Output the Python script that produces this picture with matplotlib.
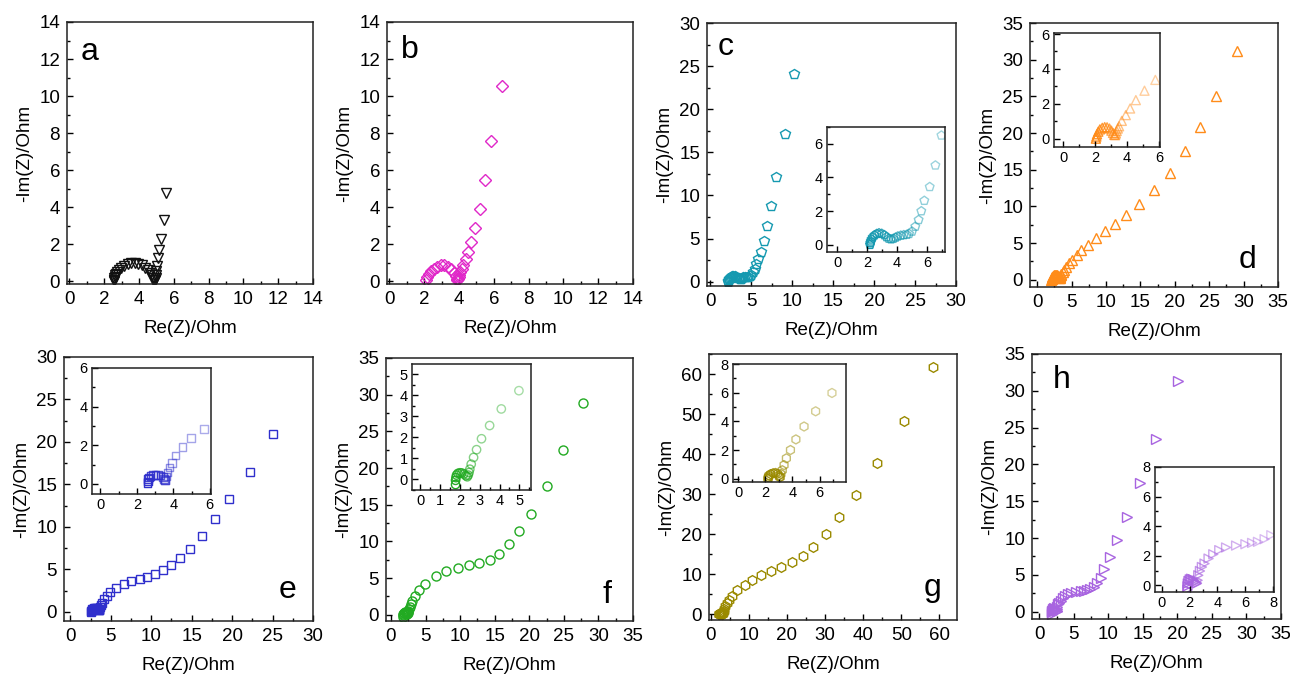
import numpy as np
import matplotlib
matplotlib.use("Agg")
import matplotlib.pyplot as plt
from matplotlib.colors import to_rgba
from matplotlib.ticker import MultipleLocator

plt.rcParams["font.family"] = ["Liberation Sans", "DejaVu Sans"]

# --- data (Re(Z), -Im(Z)) ---
a_x = [2.55, 2.55, 2.56, 2.58, 2.6, 2.63, 2.68, 2.75, 2.85, 2.98, 3.15, 3.35, 3.55, 3.75, 3.95,
       4.15, 4.35, 4.5, 4.62, 4.72, 4.78, 4.82, 4.85, 4.9, 4.95, 4.98, 5.0, 5.05, 5.1, 5.17, 5.27, 5.42, 5.55]
a_y = [0.0, 0.05, 0.1, 0.17, 0.25, 0.33, 0.42, 0.52, 0.63, 0.74, 0.85, 0.93, 0.98, 0.99, 0.95,
       0.86, 0.74, 0.6, 0.46, 0.32, 0.2, 0.1, 0.05, 0.1, 0.2, 0.35, 0.55, 0.85, 1.25, 1.7, 2.3, 3.3, 4.75]

b_x = [2.1, 2.15, 2.25, 2.4, 2.55, 2.75, 2.95, 3.15, 3.35, 3.55, 3.72, 3.82, 3.87, 3.9, 3.93, 3.97,
       4.02, 4.08, 4.15, 4.25, 4.38, 4.52, 4.68, 4.9, 5.19, 5.52, 5.86, 6.45]
b_y = [0.1, 0.25, 0.4, 0.55, 0.68, 0.8, 0.87, 0.87, 0.8, 0.65, 0.45, 0.28, 0.15, 0.08, 0.12, 0.22,
       0.35, 0.5, 0.67, 0.9, 1.2, 1.58, 2.12, 2.86, 3.9, 5.49, 7.59, 10.56]

c_x = [2.2, 2.22, 2.25, 2.3, 2.38, 2.5, 2.65, 2.8, 2.98, 3.15, 3.3, 3.45, 3.6, 3.75, 3.9, 4.05, 4.25,
       4.45, 4.65, 4.8, 5.0, 5.22, 5.44, 5.62, 5.82, 6.18, 6.56, 6.96, 7.4, 8.05, 9.07, 10.24]
c_y = [0.0, 0.1, 0.2, 0.32, 0.45, 0.57, 0.65, 0.69, 0.66, 0.58, 0.46, 0.37, 0.33, 0.36, 0.43, 0.5, 0.55,
       0.58, 0.6, 0.65, 0.79, 1.08, 1.48, 2.0, 2.62, 3.44, 4.72, 6.5, 8.76, 12.16, 17.07, 24.05]

d_x = [2.05, 2.08, 2.12, 2.2, 2.3, 2.45, 2.6, 2.75, 2.9, 3.02, 3.12, 3.2, 3.25, 3.3, 3.35, 3.42, 3.5,
       3.67, 3.92, 4.19, 4.55, 5.09, 5.77, 6.39, 7.36, 8.52, 9.78, 11.23, 12.87, 14.81, 17.04, 19.26,
       21.44, 23.62, 26.04, 29.04]
d_y = [0.0, 0.12, 0.25, 0.4, 0.53, 0.62, 0.66, 0.65, 0.58, 0.46, 0.33, 0.22, 0.2, 0.3, 0.44, 0.58, 0.71,
       1.02, 1.35, 1.73, 2.21, 2.75, 3.37, 4.0, 4.77, 5.68, 6.59, 7.64, 8.86, 10.27, 12.18, 14.6,
       17.5, 20.8, 25.1, 31.18]

e_x = [2.58, 2.6, 2.63, 2.68, 2.76, 2.88, 3.02, 3.17, 3.3, 3.42, 3.5, 3.53, 3.56, 3.6, 3.68, 3.79,
       3.93, 4.13, 4.5, 4.96, 5.68, 6.6, 7.54, 8.57, 9.52, 10.42, 11.45, 12.4, 13.56, 14.8, 16.28,
       17.84, 19.6, 22.25, 25.05]
e_y = [0.05, 0.13, 0.24, 0.33, 0.4, 0.45, 0.47, 0.47, 0.43, 0.35, 0.25, 0.18, 0.22, 0.38, 0.59, 0.85,
       1.1, 1.47, 1.9, 2.37, 2.83, 3.33, 3.65, 3.92, 4.12, 4.5, 4.98, 5.49, 6.35, 7.45, 8.9,
       10.9, 13.25, 16.47, 20.9]

f_x = [1.78, 1.78, 1.8, 1.83, 1.9, 2.0, 2.1, 2.2, 2.3, 2.37, 2.42, 2.46, 2.5, 2.57, 2.69, 2.84, 3.09,
       3.5, 4.09, 4.98, 6.49, 7.98, 9.76, 11.3, 12.79, 14.33, 15.67, 17.1, 18.5, 20.29, 22.5, 24.9, 27.79]
f_y = [-0.25, -0.05, 0.08, 0.2, 0.28, 0.31, 0.3, 0.25, 0.17, 0.12, 0.2, 0.32, 0.48, 0.72, 1.04, 1.41, 1.93,
       2.56, 3.35, 4.22, 5.27, 5.9, 6.4, 6.73, 7.05, 7.5, 8.3, 9.68, 11.36, 13.77, 17.5, 22.5, 28.9]

g_x = [2.2, 2.22, 2.27, 2.4, 2.58, 2.75, 2.9, 3.0, 3.06, 3.1, 3.15, 3.25, 3.38, 3.55, 3.85, 4.25, 4.85,
       5.7, 6.9, 8.9, 10.85, 13.2, 15.84, 18.55, 21.26, 24.15, 26.95, 30.27, 33.68, 38.06, 43.7, 50.6, 58.4]
g_y = [-0.02, 0.1, 0.22, 0.32, 0.38, 0.4, 0.35, 0.22, 0.1, 0.12, 0.33, 0.59, 0.95, 1.42, 2.0, 2.74, 3.64,
       4.7, 5.98, 7.3, 8.6, 9.8, 10.9, 11.9, 13.2, 14.6, 16.8, 20.1, 24.4, 29.8, 37.75, 48.3, 61.75]

h_x = [1.86, 1.86, 1.88, 1.93, 2.02, 2.12, 2.24, 2.34, 2.44, 2.5, 2.54, 2.58, 2.63, 2.75, 2.89, 3.08,
       3.37, 3.71, 4.14, 4.63, 5.35, 6.02, 6.5, 6.92, 7.4, 7.88, 8.4, 8.9, 9.42, 10.19, 11.26, 12.7,
       14.64, 16.96, 20.05]
h_y = [-0.3, -0.07, 0.12, 0.29, 0.4, 0.45, 0.42, 0.34, 0.22, 0.11, 0.15, 0.34, 0.68, 0.97, 1.24, 1.47,
       1.81, 2.1, 2.38, 2.56, 2.69, 2.78, 2.87, 2.94, 3.12, 3.39, 3.9, 4.6, 5.76, 7.48, 9.75, 12.92,
       17.45, 23.44, 31.28]

W, H = 1290, 677


def pix_rect(l, r, t, b):
    return [l / W, 1 - b / H, (r - l) / W, (b - t) / H]


def style(ax, xlim, ylim, xmaj, ymaj, fs, minor=True):
    ax.set_xlim(*xlim)
    ax.set_ylim(*ylim)
    ax.xaxis.set_major_locator(MultipleLocator(xmaj))
    ax.yaxis.set_major_locator(MultipleLocator(ymaj))
    if minor:
        ax.xaxis.set_minor_locator(MultipleLocator(xmaj / 2))
        ax.yaxis.set_minor_locator(MultipleLocator(ymaj / 2))
    ax.tick_params(which="both", direction="in", top=False, right=False, labelsize=fs, width=1.0)
    ax.tick_params(which="major", length=4, pad=5)
    ax.tick_params(which="minor", length=2)
    for s in ax.spines.values():
        s.set_linewidth(1.1)
        s.set_color("#222222")


# name, x, y, colour, marker, ms, rect, xlim, ylim, xmaj, ymaj, letter pos
panels = [
    ("a", a_x, a_y, "#111111", "v", 7, (67, 313, 22, 284), (-0.14, 14), (-0.14, 14), 2, 2, (0.093, 0.885)),
    ("b", b_x, b_y, "#E028C8", "D", 6, (387, 633, 22, 284), (-0.14, 14), (-0.14, 14), 2, 2, (0.093, 0.893)),
    ("c", c_x, c_y, "#1599B0", "p", 7, (707, 956, 23, 286), (-0.4, 30), (-0.5, 30), 5, 5, (0.076, 0.909)),
    ("d", d_x, d_y, "#FF8C1A", "^", 7, (1030, 1278, 23, 287), (-1.06, 35), (-1.0, 35), 5, 5, (0.879, 0.102)),
    ("e", e_x, e_y, "#2F2FCC", "s", 6, (64, 313, 357, 621), (-0.78, 30), (-1.06, 30), 5, 5, (0.896, 0.117)),
    ("f", f_x, f_y, "#22AA22", "o", 6.5, (386, 633, 358, 621), (-0.72, 35), (-0.86, 35), 5, 5, (0.895, 0.099)),
    ("g", g_x, g_y, "#9A8A00", "h", 7, (709, 957, 354, 620), (-0.44, 64.6), (-1.4, 65), 10, 10, (0.903, 0.12)),
    ("h", h_x, h_y, "#A864E0", ">", 7, (1032, 1281, 354, 619), (-1.06, 35), (-1.0, 35), 5, 5, (0.12, 0.902)),
]

# inset: rect, xlim, ylim, xmaj, ymaj
insets = {
    "c": ((827, 945, 127, 252), (-0.67, 7.2), (-0.43, 7.0), 2, 2),
    "d": ((1054, 1160, 33, 147), (-0.57, 6.06), (-0.48, 6.06), 2, 2),
    "e": ((92, 211, 368, 494), (-0.46, 6.07), (-0.52, 6.0), 2, 2),
    "f": ((412, 531, 364, 490), (-0.42, 5.59), (-0.51, 5.49), 1, 1),
    "g": ((733, 846, 364, 482), (-0.37, 7.93), (-0.23, 8.0), 2, 2),
    "h": ((1155, 1274, 467, 592), (-0.48, 8.07), (-0.45, 8.0), 2, 2),
}

fig = plt.figure(figsize=(12.9, 6.77), dpi=100)

for name, xs, ys, col, mk, ms, rect, xl, yl, xm, ym, lpos in panels:
    ax = fig.add_axes(pix_rect(*rect))
    ax.plot(xs, ys, linestyle="none", marker=mk, ms=ms, mfc="none", mec=col, mew=1.0)
    style(ax, xl, yl, xm, ym, 13.5)
    ax.set_xlabel("Re(Z)/Ohm", fontsize=13.5, labelpad=9)
    ax.set_ylabel("-Im(Z)/Ohm", fontsize=13.5, labelpad=4)
    ax.text(lpos[0], lpos[1], name, transform=ax.transAxes, fontsize=23,
            ha="center", va="center", color="black")

    if name in insets:
        irect, ixl, iyl, ixm, iym = insets[name]
        ia = fig.add_axes(pix_rect(*irect))
        xs_a = np.array(xs)
        ys_a = np.array(ys)
        keep = (xs_a <= ixl[1]) & (ys_a <= iyl[1])
        n = keep.sum()
        alphas = np.linspace(1.0, 0.4, n)
        cols = [to_rgba(col, a) for a in alphas]
        ia.scatter(xs_a[keep], ys_a[keep], s=(ms - 0.5) ** 2, marker=mk,
                   facecolors="none", edgecolors=cols, linewidths=1.0, clip_on=True)
        style(ia, ixl, iyl, ixm, iym, 10.5)
        ia.tick_params(which="major", pad=3)

fig.savefig("out.png", dpi=100)
